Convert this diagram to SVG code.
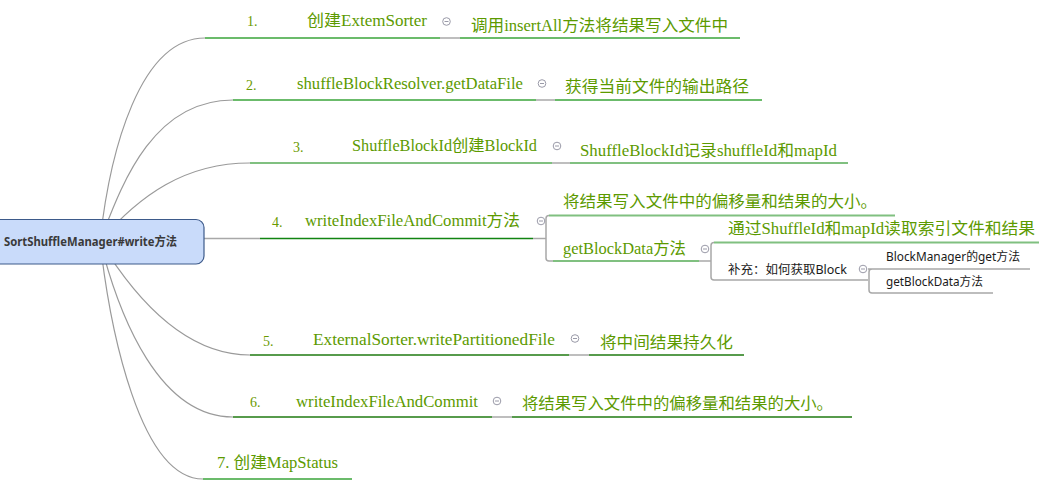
<svg xmlns="http://www.w3.org/2000/svg" width="1039" height="488" viewBox="0 0 1039 488">
<defs>
<style>
.bg{fill:#ffffff}
.curve{fill:none;stroke:#9a9a9a;stroke-width:1.2}
.gray{fill:none;stroke:#a8a8a8;stroke-width:1.5}
.g1{fill:none;stroke:#3aa53a;stroke-width:1.5}
.g2{fill:none;stroke:#80c080;stroke-width:2}
.g3{fill:none;stroke:#118411;stroke-width:1.5}
.g4{fill:none;stroke:#1f7a10;stroke-width:1.5}
.txt{font-family:"Liberation Serif","Noto Sans CJK SC",serif;font-size:16px;fill:#5c9a00}
.num{font-family:"Liberation Serif",serif;font-size:14px;fill:#6a9a00}
.small{font-family:"Noto Sans","Noto Sans CJK SC",sans-serif;font-size:12px;fill:#1a1a1a}
.root{fill:#c9dbfa;stroke:#3d5a8a;stroke-width:1.2}
.roottxt{font-family:"Noto Sans","Noto Sans CJK SC",sans-serif;font-size:12px;font-weight:bold;fill:#3a3a3a}
.tog circle{fill:#ffffff;stroke:#9a9aa8;stroke-width:1}
.tog line{stroke:#9a9aa8;stroke-width:1}
</style>
</defs>
<rect class="bg" x="0" y="0" width="1039" height="488"/>

<g id="connectors">
  <!-- curves from root -->
  <path class="curve" d="M100,241 C110,150 140,38 205,38"/>
  <path class="curve" d="M100,241 C120,190 150,100 233,100"/>
  <path class="curve" d="M100,241 C140,195 185,163 250,163"/>
  <path class="curve" d="M100,241 C130,290 180,355 250,355"/>
  <path class="curve" d="M100,241 C120,320 160,417 233,417"/>
  <path class="curve" d="M100,241 C110,330 140,479 203,479"/>
  <path class="gray" d="M190,238.5 H260"/>

  <!-- branch 1 -->
  <path class="g1" d="M205,38 H440"/>
  <path class="gray" d="M440,38 H460"/>
  <path class="g1" d="M460,38 H740"/>
  <!-- branch 2 -->
  <path class="g1" d="M233,100 H536"/>
  <path class="gray" d="M536,100 H555"/>
  <path class="g1" d="M555,100 H762"/>
  <!-- branch 3 -->
  <path class="g2" d="M250,163 H552"/>
  <path class="gray" d="M552,163 H570"/>
  <path class="g2" d="M570,163 H848"/>
  <!-- branch 4 -->
  <path class="g3" d="M260,238.5 H533"/>
  <path class="gray" d="M533,238.5 H546"/>
  <path class="gray" d="M549,215.5 Q546,215.5 546,218.5 V258 Q546,261 549,261 H553"/>
  <path class="g2" d="M549,215.5 H895"/>
  <path class="g2" d="M553,261 H699"/>
  <path class="gray" d="M699,261 H711"/>
  <path class="gray" d="M714,242.5 Q711,242.5 711,245.5 V277 Q711,280 714,280 H868"/>
  <path class="g2" d="M714,242.5 H1039"/>
  <path class="gray" d="M868,269 H1030 M872,269 Q869,269 869,272 V290 Q869,293 872,293 H993"/>
  <!-- branch 5 -->
  <path class="g4" d="M250,355 H569"/>
  <path class="gray" d="M569,355 H589"/>
  <path class="g4" d="M589,355 H744"/>
  <!-- branch 6 -->
  <path class="g4" d="M233,417 H492"/>
  <path class="gray" d="M492,417 H512"/>
  <path class="g4" d="M512,417 H852"/>
  <!-- branch 7 -->
  <path class="g1" d="M203,479 H352"/>
</g>

<g id="root">
  <rect class="root" x="-12" y="219.5" width="216" height="44.5" rx="8"/>
  <text class="roottxt" x="4" y="246" textLength="173" lengthAdjust="spacingAndGlyphs">SortShuffleManager#write方法</text>
</g>

<g id="n1">
  <text class="num" x="247" y="26">1.</text>
  <text class="txt" x="307" y="26" textLength="120" lengthAdjust="spacingAndGlyphs">创建ExtemSorter</text>
  <g class="tog"><circle cx="446.5" cy="21.5" r="3.8"/><line x1="444.5" y1="21.5" x2="448.5" y2="21.5"/></g>
</g>
<g id="n1c">
  <text class="txt" x="471" y="30.5" textLength="257" lengthAdjust="spacingAndGlyphs">调用insertAll方法将结果写入文件中</text>
</g>

<g id="n2">
  <text class="num" x="246" y="89.5">2.</text>
  <text class="txt" x="297" y="89" textLength="226" lengthAdjust="spacingAndGlyphs">shuffleBlockResolver.getDataFile</text>
  <g class="tog"><circle cx="542" cy="83.5" r="3.8"/><line x1="540" y1="83.5" x2="544" y2="83.5"/></g>
</g>
<g id="n2c">
  <text class="txt" x="565" y="92" textLength="184" lengthAdjust="spacingAndGlyphs">获得当前文件的输出路径</text>
</g>

<g id="n3">
  <text class="num" x="293" y="152">3.</text>
  <text class="txt" x="352" y="151" textLength="185" lengthAdjust="spacingAndGlyphs">ShuffleBlockId创建BlockId</text>
  <g class="tog"><circle cx="557" cy="146" r="3.8"/><line x1="555" y1="146" x2="559" y2="146"/></g>
</g>
<g id="n3c">
  <text class="txt" x="580" y="155.5" textLength="257" lengthAdjust="spacingAndGlyphs">ShuffleBlockId记录shuffleId和mapId</text>
</g>

<g id="n4">
  <text class="num" x="272" y="226.5">4.</text>
  <text class="txt" x="305" y="226" textLength="215" lengthAdjust="spacingAndGlyphs">writeIndexFileAndCommit方法</text>
  <g class="tog"><circle cx="541" cy="221" r="3.8"/><line x1="539" y1="221" x2="543" y2="221"/></g>
</g>
<g id="n4a">
  <text class="txt" x="563" y="207" textLength="314" lengthAdjust="spacingAndGlyphs">将结果写入文件中的偏移量和结果的大小。</text>
</g>
<g id="n4b">
  <text class="txt" x="563" y="253.5" textLength="123" lengthAdjust="spacingAndGlyphs">getBlockData方法</text>
  <g class="tog"><circle cx="705" cy="249" r="3.8"/><line x1="703" y1="249" x2="707" y2="249"/></g>
</g>
<g id="n4b1">
  <text class="txt" x="728" y="234" textLength="307" lengthAdjust="spacingAndGlyphs">通过ShuffleId和mapId读取索引文件和结果</text>
</g>
<g id="n4b2">
  <text class="small" x="728" y="274" textLength="119" lengthAdjust="spacingAndGlyphs">补充：如何获取Block</text>
  <g class="tog"><circle cx="863" cy="269" r="3.8"/><line x1="861" y1="269" x2="865" y2="269"/></g>
</g>
<g id="n4b2a">
  <text class="small" x="886" y="261" textLength="134" lengthAdjust="spacingAndGlyphs">BlockManager的get方法</text>
</g>
<g id="n4b2b">
  <text class="small" x="886" y="286" textLength="97" lengthAdjust="spacingAndGlyphs">getBlockData方法</text>
</g>

<g id="n5">
  <text class="num" x="263" y="345.5">5.</text>
  <text class="txt" x="313" y="345" textLength="242" lengthAdjust="spacingAndGlyphs">ExternalSorter.writePartitionedFile</text>
  <g class="tog"><circle cx="575" cy="338.5" r="3.8"/><line x1="573" y1="338.5" x2="577" y2="338.5"/></g>
</g>
<g id="n5c">
  <text class="txt" x="600" y="348" textLength="133" lengthAdjust="spacingAndGlyphs">将中间结果持久化</text>
</g>

<g id="n6">
  <text class="num" x="250" y="406.5">6.</text>
  <text class="txt" x="296" y="406.5" textLength="182" lengthAdjust="spacingAndGlyphs">writeIndexFileAndCommit</text>
  <g class="tog"><circle cx="497" cy="401" r="3.8"/><line x1="495" y1="401" x2="499" y2="401"/></g>
</g>
<g id="n6c">
  <text class="txt" x="522" y="409" textLength="311" lengthAdjust="spacingAndGlyphs">将结果写入文件中的偏移量和结果的大小。</text>
</g>

<g id="n7">
  <text class="txt" x="217" y="468" textLength="121" lengthAdjust="spacingAndGlyphs">7. 创建MapStatus</text>
</g>
</svg>
